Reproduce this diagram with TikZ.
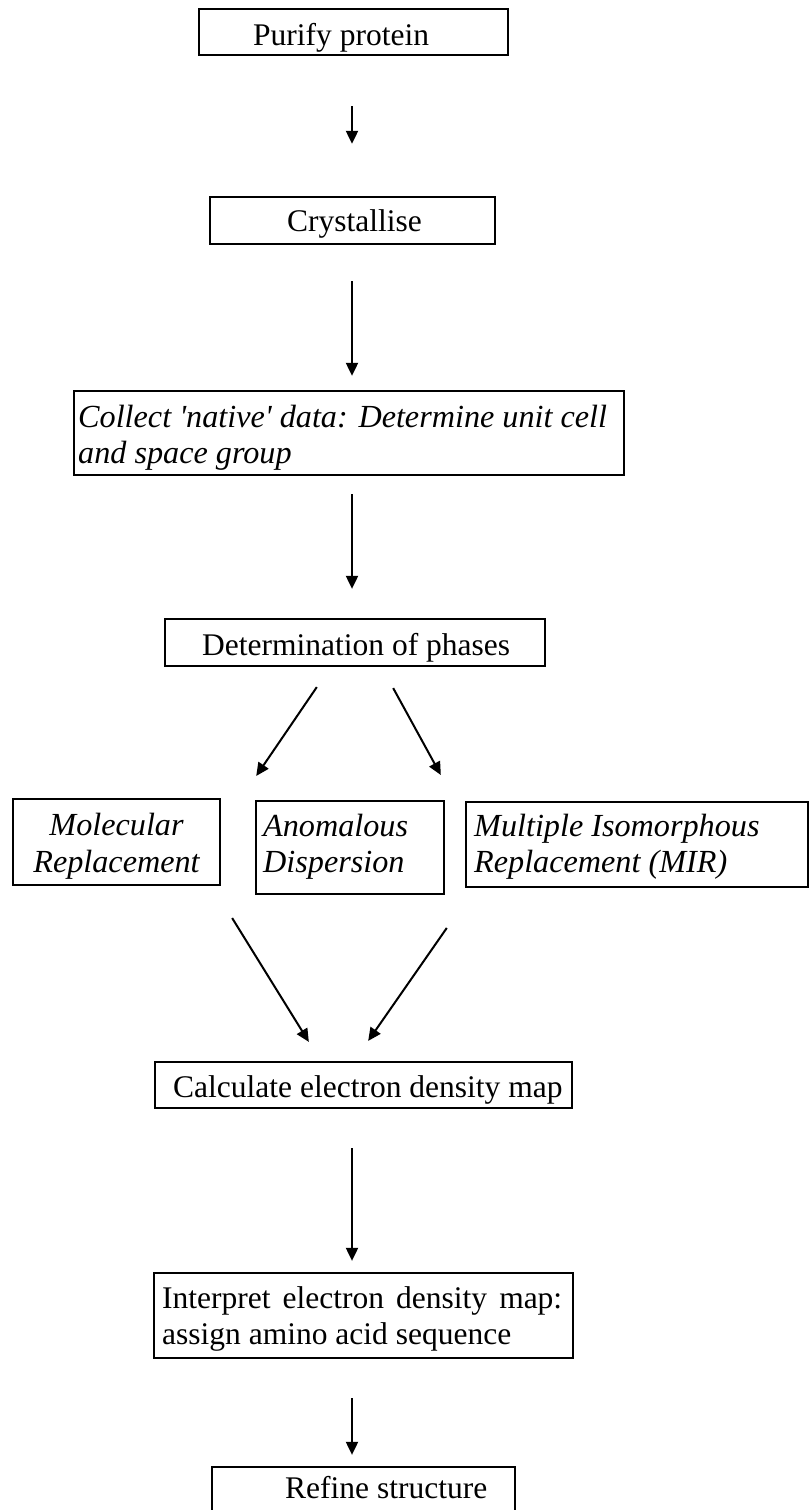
\documentclass[tikz,border=0pt]{standalone}
\usepackage{fontspec}
\setmainfont{Liberation Serif}
\usetikzlibrary{arrows.meta}
\begin{document}
\begin{tikzpicture}[x=1pt,y=-1pt,
  box/.style={draw, line width=2.3pt, rectangle, inner sep=0pt},
  txt/.style={inner sep=0pt, font=\fontsize{31.5}{37}\selectfont},
  itxt/.style={inner sep=0pt, font=\fontsize{32.2}{37}\selectfont\itshape},
  arr/.style={line width=2pt, -{Triangle[length=13pt,width=12pt]}}]
\useasboundingbox[fill=white] (0,0) rectangle (810,1510);
\coordinate (axis) at (352,0);

% boxes
\node[box, minimum width=309pt, minimum height=46pt] (purify) at (353.5,32) {};
\node[box, minimum width=285pt, minimum height=47pt] (crystal) at (352.5,220.5) {};
\node[box, minimum width=550pt, minimum height=84pt] (collect) at (349,433) {};
\node[box, minimum width=380pt, minimum height=47pt] (det) at (355,642.5) {};
\node[box, minimum width=207pt, minimum height=86pt] (mr) at (116.5,842) {};
\node[box, minimum width=188pt, minimum height=93pt] (ad) at (350,847.5) {};
\node[box, minimum width=342pt, minimum height=85pt] (mir) at (637,844.5) {};
\node[box, minimum width=417pt, minimum height=46pt] (calc) at (363.5,1085) {};
\node[box, minimum width=419pt, minimum height=85pt] (interp) at (363.5,1315.5) {};
\node[box, minimum width=303pt, minimum height=46pt] (refine) at (363.5,1490) {};

% texts
\node[txt, anchor=base west] (purifyT) at (253,45) {Purify protein};
\node[txt, anchor=base west] (crystalT) at (287,231) {Crystallise};
\node[itxt, anchor=base west] (collectA) at (78,427) {Collect \textquotesingle native\textquotesingle{} data: Determine unit cell};
\node[itxt, anchor=base west] (collectB) at (78,463) {and space group};
\node[txt, anchor=base west] (detT) at (202,655) {Determination of phases};
\node[itxt, anchor=base] (mrA) at (116.5,835) {Molecular};
\node[itxt, anchor=base] (mrB) at (116.5,872) {Replacement};
\node[itxt, anchor=base west] (adA) at (263,836) {Anomalous};
\node[itxt, anchor=base west] (adB) at (263,872) {Dispersion};
\node[itxt, anchor=base west] (mirA) at (474,836) {Multiple Isomorphous};
\node[itxt, anchor=base west] (mirB) at (474,872) {Replacement (MIR)};
\node[txt, anchor=base west] (calcT) at (173,1097) {Calculate electron density map};
\node[txt, anchor=base west] (interpA) at (162,1308) {\makebox[400pt][s]{Interpret electron density map:}};
\node[txt, anchor=base west] (interpB) at (162,1344) {assign amino acid sequence};
\node[txt, anchor=base west] (refineT) at (285,1498) {Refine structure};

% vertical arrows
\draw[arr, shorten <=50pt, shorten >=52pt] (purify.south -| axis) -- (crystal.north -| axis);
\draw[arr, shorten <=36pt, shorten >=14pt] (crystal.south -| axis) -- (collect.north -| axis);
\draw[arr, shorten <=18pt, shorten >=29pt] (collect.south -| axis) -- (det.north -| axis);
\draw[arr, shorten <=39pt, shorten >=11pt] (calc.south -| axis) -- (interp.north -| axis);
\draw[arr, shorten <=39pt, shorten >=11pt] (interp.south -| axis) -- (refine.north -| axis);

% diverging arrows
\draw[arr, shorten <=24.1pt, shorten >=26.5pt] ([xshift=-24.6pt]det.south) -- ([xshift=124.8pt]mr.north);
\draw[arr, shorten <=23.9pt, shorten >=29.5pt] ([xshift=26.7pt]det.south) -- ([xshift=-182pt]mir.north);

% converging arrows
\draw[arr, shorten <=37.5pt, shorten >=22.3pt] ([xshift=95.9pt]mr.south) -- ([xshift=-42.9pt]calc.north);
\draw[arr, shorten <=48.5pt, shorten >=24.3pt] ([xshift=-162.5pt]mir.south) -- ([xshift=-9.2pt]calc.north);
\end{tikzpicture}
\end{document}
